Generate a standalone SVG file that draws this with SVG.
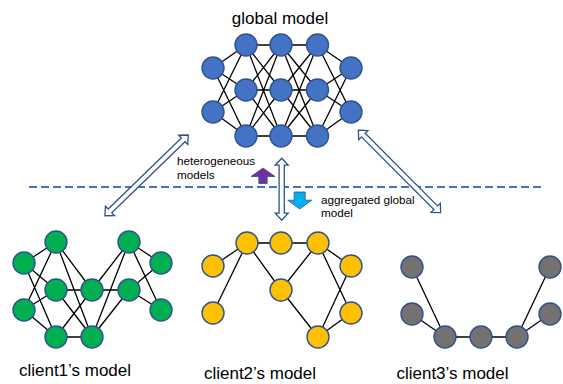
<svg xmlns="http://www.w3.org/2000/svg" width="563" height="384" viewBox="0 0 563 384">
<style>
.n{stroke:#2F528F;stroke-width:1.4}
.blue{fill:#4472C4}.green{fill:#00B050}.yellow{fill:#FFC000}.gray{fill:#767171}
.e{fill:none;stroke:#000;stroke-width:1.3}
.t{font-family:"Liberation Sans",Arial,sans-serif;fill:#000}
.big{font-size:17px}
.small{font-size:11.7px}
.dbl{fill:#fff;stroke:#2F528F;stroke-width:1.3;stroke-linejoin:miter}
</style>
<defs>
<circle id="c" r="11"/>
</defs>
<rect width="563" height="384" fill="#fff"/>

<!-- connectors -->
<g id="connectors">
  <!-- global model -->
  <path class="e" d="M213 68L246 45M213 68L246 90M213 68L246 136M213 112L246 45M213 112L246 90M213 112L246 136"/>
  <path class="e" d="M246 45L281 45M246 45L281 90M246 45L281 136M246 90L281 45M246 90L281 90M246 90L281 136M246 136L281 45M246 136L281 90M246 136L281 136"/>
  <path class="e" d="M281 45L317.5 45M281 45L317.5 90M281 45L317.5 136M281 90L317.5 45M281 90L317.5 90M281 90L317.5 136M281 136L317.5 45M281 136L317.5 90M281 136L317.5 136"/>
  <path class="e" d="M317.5 45L351 68M317.5 90L351 68M317.5 136L351 68M317.5 45L351 112M317.5 90L351 112M317.5 136L351 112"/>
  <!-- client1 -->
  <path class="e" d="M24 263L56 242M24 263L56 290M24 263L56 337M24 310L56 242M24 310L56 290M24 310L56 337"/>
  <path class="e" d="M56 242L92 290M56 242L92 337M56 290L92 290M56 290L92 337M56 337L92 290M56 337L92 337"/>
  <path class="e" d="M92 290L129 242M92 290L129 290M92 337L129 242M92 337L129 290"/>
  <path class="e" d="M129 242L161 263M129 242L161 310M129 290L161 263M129 290L161 310"/>
  <!-- client2 -->
  <path class="e" d="M213 266L247 243M213 313L247 243"/>
  <path class="e" d="M247 243L281 243M247 243L281 290"/>
  <path class="e" d="M281 243L318 243M281 290L318 243M281 290L318 337"/>
  <path class="e" d="M318 243L351 266M318 243L351 313M318 337L351 266M318 337L351 313"/>
  <!-- client3 -->
  <path class="e" d="M412 267L445 337M412 314L445 337M445 337L481 337M481 337L517 337M517 337L550 267M517 337L550 314"/>

  <!-- dashed separator -->
  <line x1="29" y1="187" x2="541" y2="187" stroke="#4472C4" stroke-width="2" stroke-dasharray="8 4"/>

  <!-- double block arrows -->
  <path class="dbl" transform="translate(146.6 175.4) rotate(-44.1)" d="M-58 0L-51 -6.5L-51 -2.6L51 -2.6L51 -6.5L58 0L51 6.5L51 2.6L-51 2.6L-51 6.5Z"/>
  <path class="dbl" transform="translate(399.5 171.4) rotate(45.1)" d="M-58.3 0L-51.3 -6.5L-51.3 -2.6L51.3 -2.6L51.3 -6.5L58.3 0L51.3 6.5L51.3 2.6L-51.3 2.6L-51.3 6.5Z"/>
  <path class="dbl" transform="translate(281.7 189.2) rotate(90)" d="M-31 0L-24 -6.5L-24 -2.6L24 -2.6L24 -6.5L31 0L24 6.5L24 2.6L-24 2.6L-24 6.5Z"/>

  <!-- purple up arrow -->
  <path d="M263 168L275 176.5L267.2 176.5L267.2 183.5L258.8 183.5L258.8 176.5L251 176.5Z" fill="#7030A0" stroke="#2F528F" stroke-width="0.8"/>
  <!-- blue down arrow -->
  <path d="M294.2 192L305.2 192L305.2 200.2L311.7 200.2L299.7 209L287.7 200.2L294.2 200.2Z" fill="#00B0F0" stroke="#2F528F" stroke-width="0.8"/>
</g>

<!-- texts -->
<text class="t big" x="280" y="24" text-anchor="middle">global model</text>
<text class="t small" x="177" y="165">heterogeneous</text>
<text class="t small" x="177" y="178.5">models</text>
<text class="t small" x="321" y="203.5">aggregated global</text>
<text class="t small" x="321" y="216.5">model</text>
<text class="t big" x="75" y="376" text-anchor="middle">client1’s model</text>
<text class="t big" x="260" y="379" text-anchor="middle">client2’s model</text>
<text class="t big" x="452.5" y="379" text-anchor="middle">client3’s model</text>

<!-- global model nodes -->
<g id="global-model">
  <g id="g-1-1"><use href="#c" class="n blue" x="213" y="68"/></g>
  <g id="g-1-2"><use href="#c" class="n blue" x="213" y="112"/></g>
  <g id="g-2-1"><use href="#c" class="n blue" x="246" y="45"/></g>
  <g id="g-2-2"><use href="#c" class="n blue" x="246" y="90"/></g>
  <g id="g-2-3"><use href="#c" class="n blue" x="246" y="136"/></g>
  <g id="g-3-1"><use href="#c" class="n blue" x="281" y="45"/></g>
  <g id="g-3-2"><use href="#c" class="n blue" x="281" y="90"/></g>
  <g id="g-3-3"><use href="#c" class="n blue" x="281" y="136"/></g>
  <g id="g-4-1"><use href="#c" class="n blue" x="317.5" y="45"/></g>
  <g id="g-4-2"><use href="#c" class="n blue" x="317.5" y="90"/></g>
  <g id="g-4-3"><use href="#c" class="n blue" x="317.5" y="136"/></g>
  <g id="g-5-1"><use href="#c" class="n blue" x="351" y="68"/></g>
  <g id="g-5-2"><use href="#c" class="n blue" x="351" y="112"/></g>
</g>

<!-- client1 nodes -->
<g id="client1-model">
  <g id="c1-1-1"><use href="#c" class="n green" x="24" y="263"/></g>
  <g id="c1-1-2"><use href="#c" class="n green" x="24" y="310"/></g>
  <g id="c1-2-1"><use href="#c" class="n green" x="56" y="242"/></g>
  <g id="c1-2-2"><use href="#c" class="n green" x="56" y="290"/></g>
  <g id="c1-2-3"><use href="#c" class="n green" x="56" y="337"/></g>
  <g id="c1-3-1"><use href="#c" class="n green" x="92" y="290"/></g>
  <g id="c1-3-2"><use href="#c" class="n green" x="92" y="337"/></g>
  <g id="c1-4-1"><use href="#c" class="n green" x="129" y="242"/></g>
  <g id="c1-4-2"><use href="#c" class="n green" x="129" y="290"/></g>
  <g id="c1-5-1"><use href="#c" class="n green" x="161" y="263"/></g>
  <g id="c1-5-2"><use href="#c" class="n green" x="161" y="310"/></g>
</g>

<!-- client2 nodes -->
<g id="client2-model">
  <g id="c2-1-1"><use href="#c" class="n yellow" x="213" y="266"/></g>
  <g id="c2-1-2"><use href="#c" class="n yellow" x="213" y="313"/></g>
  <g id="c2-2-1"><use href="#c" class="n yellow" x="247" y="243"/></g>
  <g id="c2-3-1"><use href="#c" class="n yellow" x="281" y="243"/></g>
  <g id="c2-3-2"><use href="#c" class="n yellow" x="281" y="290"/></g>
  <g id="c2-4-1"><use href="#c" class="n yellow" x="318" y="243"/></g>
  <g id="c2-4-2"><use href="#c" class="n yellow" x="318" y="337"/></g>
  <g id="c2-5-1"><use href="#c" class="n yellow" x="351" y="266"/></g>
  <g id="c2-5-2"><use href="#c" class="n yellow" x="351" y="313"/></g>
</g>

<!-- client3 nodes -->
<g id="client3-model">
  <g id="c3-1-1"><use href="#c" class="n gray" x="412" y="267"/></g>
  <g id="c3-1-2"><use href="#c" class="n gray" x="412" y="314"/></g>
  <g id="c3-2-1"><use href="#c" class="n gray" x="445" y="337"/></g>
  <g id="c3-3-1"><use href="#c" class="n gray" x="481" y="337"/></g>
  <g id="c3-4-1"><use href="#c" class="n gray" x="517" y="337"/></g>
  <g id="c3-5-1"><use href="#c" class="n gray" x="550" y="267"/></g>
  <g id="c3-5-2"><use href="#c" class="n gray" x="550" y="314"/></g>
</g>
</svg>
